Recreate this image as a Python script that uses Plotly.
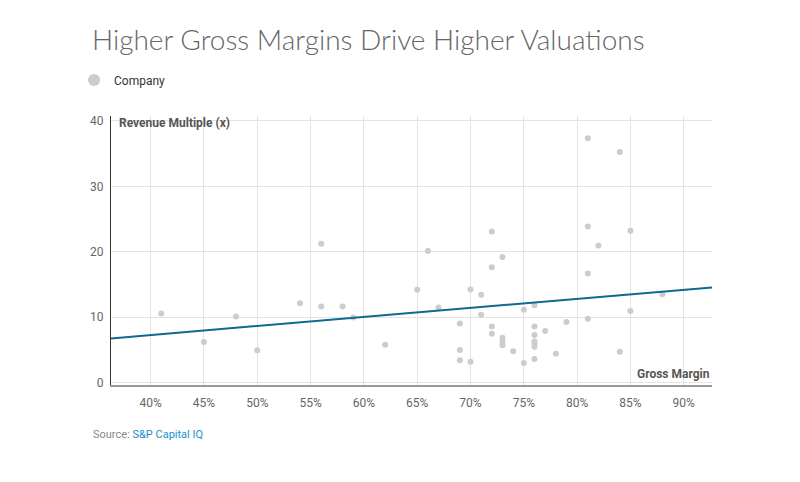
import plotly.graph_objects as go

# Gross margin (%) and revenue multiple (x) per company
gross_margin = [41, 45, 48, 50, 54, 56, 56, 58, 59, 62,
                65, 66, 67, 69, 69, 69, 70, 70, 71, 71,
                72, 72, 72, 72, 73, 73, 73, 73, 74, 75,
                75, 76, 76, 76, 76, 76, 76, 76, 77, 78,
                79, 81, 81, 81, 81, 82, 84, 84, 85, 85, 88]
revenue_multiple = [10.55, 6.17, 10.1, 4.9, 12.1, 11.6, 21.2, 11.6, 9.94, 5.76,
                    14.17, 20.09, 11.47, 9.02, 4.95, 3.37, 14.2, 3.16, 13.4, 10.35,
                    23.1, 17.6, 8.57, 7.45, 19.2, 6.83, 6.33, 5.7, 4.75, 11.1,
                    2.96, 11.8, 8.57, 7.25, 6.27, 5.9, 5.46, 3.57, 7.85, 4.39,
                    9.23, 37.37, 23.85, 16.67, 9.74, 20.95, 35.27, 4.69, 23.2, 10.92, 13.5]

# Trend line endpoints (gross margin %, multiple)
trend_x = [36.28, 92.65]
trend_y = [6.73, 14.53]

x_ticks = [40, 45, 50, 55, 60, 65, 70, 75, 80, 85, 90]
x_tick_labels = ["40%", "45%", "50%", "55%", "60%", "65%", "70%", "75%", "80%", "85%", "90%"]
y_ticks = [0, 10, 20, 30, 40]

fig = go.Figure()
fig.add_trace(go.Scatter(
    x=gross_margin, y=revenue_multiple, mode="markers", name="Company",
    marker=dict(size=6, color="#c9cdcd"),
))
fig.add_trace(go.Scatter(
    x=trend_x, y=trend_y, mode="lines", showlegend=False,
    line=dict(color="#0f6a92", width=2), hoverinfo="skip",
))

fig.update_layout(
    width=800, height=482,
    paper_bgcolor="white", plot_bgcolor="white",
    margin=dict(l=103, r=96, t=108, b=105),
    font=dict(family="Roboto", size=12, color="#666"),
    title=dict(
        text="Higher Gross Margins Drive Higher Valuations",
        x=84/800, xref="container", xanchor="left",
        y=1-32/482, yref="container", yanchor="middle",
        font=dict(family="Lato", size=28, color="#666", weight=300),
    ),
    legend=dict(
        orientation="h", x=66/800, xref="container", xanchor="left",
        y=1-72/482, yref="container", yanchor="middle",
        itemsizing="constant", font=dict(family="Roboto", size=12, color="#333"),
    ),
    xaxis=dict(
        range=[36.28, 92.65], tickvals=x_ticks, ticktext=x_tick_labels,
        showgrid=True, gridcolor="#e3e3e3", gridwidth=1,
        showline=True, linecolor="#999", linewidth=2,
        ticks="outside", ticklen=6, tickcolor="rgba(0,0,0,0)",
        zeroline=False, tickfont=dict(color="#666", size=12),
    ),
    yaxis=dict(
        range=[-0.4, 40.76], tickvals=y_ticks,
        showgrid=True, gridcolor="#e3e3e3", gridwidth=1,
        showline=True, linecolor="#333", linewidth=1,
        zeroline=False, tickfont=dict(color="#666", size=12),
        ticks="outside", ticklen=4, tickcolor="rgba(0,0,0,0)",
    ),
    annotations=[
        dict(text="<b>Revenue Multiple (x)</b>", xref="paper", yref="paper",
             x=0.01, y=0.974, xanchor="left", yanchor="middle", showarrow=False,
             font=dict(family="Roboto", size=12, color="#555")),
        dict(text="<b>Gross Margin</b>", xref="paper", yref="paper",
             x=1, y=0.041, xanchor="right", yanchor="middle", showarrow=False,
             font=dict(family="Roboto", size=12, color="#555")),
        dict(text="Source: <span style='color:#1a8fc9'>S&P Capital IQ</span>",
             xref="paper", yref="paper", x=-20/601, y=-49/269,
             xanchor="left", yanchor="middle", showarrow=False,
             font=dict(family="Roboto", size=11, color="#888")),
    ],
)

fig.write_html("out.html")
